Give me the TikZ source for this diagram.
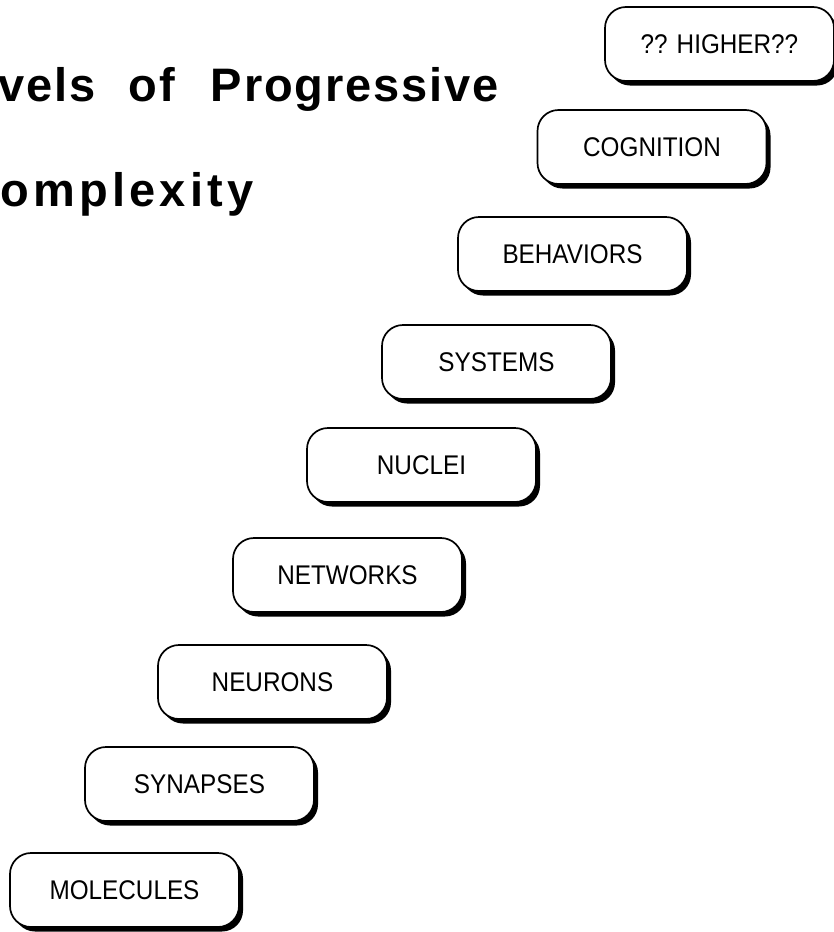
\documentclass[tikz,border=0pt]{standalone}
\usepackage{fontspec}
\setmainfont{Liberation Sans}
\newfontfamily\titlefont[LetterSpace=4]{Liberation Sans}
\newfontfamily\titlefontb[LetterSpace=9]{Liberation Sans}
\newfontfamily\boxfont[FakeStretch=0.9]{Liberation Sans}
\usetikzlibrary{shadows}
\tikzset{
  lvl/.style={draw=black, line width=1.7pt, fill=white, rounded corners=21pt,
    minimum width=229pt, minimum height=74pt, inner sep=0pt,
    font=\boxfont\fontsize{27}{31}\selectfont,
    drop shadow={shadow xshift=4pt, shadow yshift=-4.5pt, fill=black, opacity=1}},
  ttl/.style={inner sep=0pt, font=\titlefont\bfseries\fontsize{47}{52}\selectfont},
  ttlb/.style={inner sep=0pt, font=\titlefontb\bfseries\fontsize{47}{52}\selectfont}
}
\begin{document}
\begin{tikzpicture}[x=1pt,y=-1pt]
\useasboundingbox (0,0) rectangle (834,932);
\node[ttl, anchor=base east] (t1) at (499,101) {vels\hspace{33pt}of\hspace{36pt}Progressive};
\node[ttlb, anchor=base west] (t2) at (0,206) {omplexity};
\node[lvl] (higher) at (719.5,44) {?? HIGHER??};
\node[lvl] (cog) at (652,147) {COGNITION};
\node[lvl] (beh) at (572.5,254) {BEHAVIORS};
\node[lvl] (sys) at (496.5,362) {SYSTEMS};
\node[lvl] (nuc) at (421.5,465) {NUCLEI};
\node[lvl] (net) at (347.5,575) {NETWORKS};
\node[lvl] (neu) at (272.5,682) {NEURONS};
\node[lvl] (syn) at (199.5,784) {SYNAPSES};
\node[lvl] (mol) at (124.5,890) {MOLECULES};
\end{tikzpicture}
\end{document}
